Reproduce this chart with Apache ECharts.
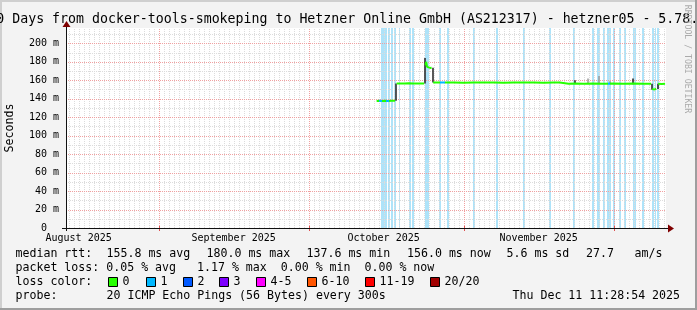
<!DOCTYPE html>
<html><head><meta charset="utf-8">
<script src="https://cdn.jsdelivr.net/npm/echarts@6/dist/echarts.min.js"></script>
<style>html,body{margin:0;padding:0;background:#f3f3f3;}#c{width:697px;height:310px;}</style>
</head><body><div id="c"></div>
<script>
// x values: days since 2025-08-01 00:00
const START = 12.478;            // Aug 13 2025 11:28:54
const END = 132.478;             // Dec 11 2025 11:28:54
const MONTH_STARTS = [31, 61, 92, 122];
const MONTH_LABELS = ['August 2025', 'September 2025', 'October 2025', 'November 2025'];
const MONTH_LABEL_DAYS = [15, 46, 76, 107];
const Y_MAX = 216.6;             // ms
const Y_MAJOR = [20, 40, 60, 80, 100, 120, 140, 160, 180, 200];
const Y_MINOR = [10, 30, 50, 70, 90, 110, 130, 150, 170, 190, 210];

// median rtt (ms); '-' = gap
const MEDIAN = [
  [74.6,137.6],[75.2,137.8],[75.8,137.6],[76.4,137.9],[77.0,137.6],[77.6,137.8],[78.3,137.7],
  [78.4,'-'],
  [78.6,156.4],[79.4,156.6],[80.2,156.4],[81.0,156.7],[81.8,156.5],[82.6,156.6],[83.4,156.4],[84.1,156.5],
  [84.2,'-'],
  [84.4,176],[84.5,180.0],[84.7,174.5],[85.0,173.8],[85.3,173.4],[85.6,173.6],
  [85.7,'-'],
  [85.9,157.6],[88,157.5],[90,157.7],[92,157.4],[94,157.6],[96,157.5],[98,157.7],[100,157.4],
  [102,157.6],[104,157.5],[106,157.6],[108,157.4],[110,157.6],[111.2,157.5],
  [111.3,156.3],[113,156.2],[114.3,156.6],[116,156.3],[118,156.4],[120,156.2],[122,156.4],
  [124,156.3],[126,156.5],[128,156.3],[129.5,156.3],
  [129.6,'-'],
  [129.7,150.4],[129.9,149.6],[130.2,150.0],[130.5,151.0],
  [130.7,'-'],
  [130.9,156.2],[131.6,156.0],[132.3,156.1]
];
// x ranges where median line is drawn in "1 lost" colour
const LOSS1_RANGES = [[75.0,75.7],[76.5,77.1],[87.3,88.3],[120.8,121.2]];
// background loss bars [from, to] (days)
const LOSS_BARS = [
  [75.5,76.7],[76.9,77.3],[77.5,77.9],[78.1,78.5],[79.1,79.3],[81.1,81.5],[81.7,82.1],
  [84.3,85.1],[87.1,87.5],[88.7,89.1],[93.9,94.3],[98.5,98.9],[103.9,104.3],[109.1,109.5],
  [113.9,114.3],[117.7,118.1],[118.7,119.3],[119.9,120.3],[120.7,121.5],[121.9,122.3],
  [123.1,123.5],[124.1,124.5],[125.9,126.5],[127.7,128.1],[129.7,130.1],[130.3,130.5],[130.7,131.1]
];
// smoke spread [day, low, high]
const SMOKE_DARK = [[78.5,137.7,156.4],[84.3,156.5,184],[85.8,157.6,173.6],[114.3,156.4,160],
  [125.9,155.8,162],[129.6,149.6,156.3],[130.8,150.5,156.2]];
const SMOKE_LIGHT = [[116.9,156.4,162],[119.1,156.3,164.5],[121.3,156.3,159]];

const TITLE = '120 Days from docker-tools-smokeping to Hetzner Online GmbH (AS212317) - hetzner05 - 5.78.';
const RTT_STATS = ['155.8 ms avg', '180.0 ms max', '137.6 ms min', '156.0 ms now', '5.6 ms sd', '27.7', 'am/s'];
const LOSS_LINE = 'packet loss: 0.05 % avg   1.17 % max  0.00 % min  0.00 % now';
const LOSS_NAMES = ['0', '1', '2', '3', '4-5', '6-10', '11-19', '20/20'];
const LOSS_COLORS = ['#26ff00', '#00b8ff', '#0059ff', '#7e00ff', '#ff00ff', '#ff5500', '#ff0000', '#a10000'];
const PROBE = '20 ICMP Echo Pings (56 Bytes) every 300s';
const DATE_TEXT = 'Thu Dec 11 11:28:54 2025';

const MONO = '"DejaVu Sans Mono", monospace';
const GRID_C = '#dcdcdc', MGRID_C = '#f0a0a0';

const dayLines = [];
for (let d = Math.ceil(START); d <= END; d++) if (!MONTH_STARTS.includes(d)) dayLines.push([d, 0]);

function vlines(color, tick) {
  return function (params, api) {
    const x = Math.round(api.coord([api.value(0), 0])[0]) + 0.5;
    const y0 = api.coord([START, 0])[1], y1 = api.coord([START, Y_MAX])[1];
    const kids = [{type: 'line', shape: {x1: x, y1: y0, x2: x, y2: y1},
      style: {stroke: color, lineWidth: 1, lineDash: [1, 1]}}];
    if (tick) kids.push({type: 'line', shape: {x1: x, y1: y0 - 2, x2: x, y2: y0 + 3},
      style: {stroke: '#e05050', lineWidth: 1}});
    return {type: 'group', children: kids};
  };
}
function hlines(color) {
  return function (params, api) {
    const y = Math.round(api.coord([START, api.value(1)])[1]) + 0.5;
    const x0 = api.coord([START, 0])[0], x1 = api.coord([END, 0])[0];
    return {type: 'line', shape: {x1: x0, y1: y, x2: x1, y2: y},
      style: {stroke: color, lineWidth: 1, lineDash: [1, 1]}};
  };
}
function smoke(color) {
  return function (params, api) {
    const p0 = api.coord([api.value(0), api.value(2)]);
    const p1 = api.coord([api.value(0), api.value(1)]);
    return {type: 'rect', shape: {x: Math.round(p0[0]) - 0.75, y: p0[1], width: 1.5, height: p1[1] - p0[1]},
      style: {fill: color}};
  };
}

const chart = echarts.init(document.getElementById('c'), null, {renderer: 'canvas'});

const graphic = [];
// frame
graphic.push({type: 'rect', shape: {x: 0, y: 0, width: 697, height: 2}, style: {fill: '#cfcfcf'}, z: 100});
graphic.push({type: 'rect', shape: {x: 0, y: 0, width: 2, height: 310}, style: {fill: '#cfcfcf'}, z: 100});
graphic.push({type: 'rect', shape: {x: 0, y: 308, width: 697, height: 2}, style: {fill: '#9e9e9e'}, z: 101});
graphic.push({type: 'rect', shape: {x: 695, y: 0, width: 2, height: 310}, style: {fill: '#9e9e9e'}, z: 101});
// axes
graphic.push({type: 'line', shape: {x1: 62, y1: 228.5, x2: 669, y2: 228.5}, style: {stroke: '#111', lineWidth: 1}, z: 100});
graphic.push({type: 'line', shape: {x1: 66.5, y1: 231, x2: 66.5, y2: 25}, style: {stroke: '#111', lineWidth: 1}, z: 100});
graphic.push({type: 'polygon', shape: {points: [[668, 224.5], [668, 232.5], [674, 228.5]]}, style: {fill: '#7f0000'}, z: 100});
graphic.push({type: 'polygon', shape: {points: [[62.5, 27], [70.5, 27], [66.5, 21]]}, style: {fill: '#7f0000'}, z: 100});
// title
graphic.push({type: 'text', x: -19.7, y: 20, style: {text: TITLE, font: '13.25px ' + MONO, fill: '#000', align: 'left', verticalAlign: 'middle'}, z: 100});
// watermark
graphic.push({type: 'text', x: 687, y: 59, rotation: -Math.PI / 2,
  style: {text: 'RRDTOOL / TOBI OETIKER', font: '8.2px ' + MONO, fill: '#aaaaaa', align: 'center', verticalAlign: 'middle'}, z: 100});
// y title
graphic.push({type: 'text', x: 10, y: 128, rotation: Math.PI / 2,
  style: {text: 'Seconds', font: '11.6px ' + MONO, fill: '#000', align: 'center', verticalAlign: 'middle'}, z: 100});
// legend
const LF = '11.6px ' + MONO;
function txt(t, x, y) { graphic.push({type: 'text', x: x, y: y, style: {text: t, font: LF, fill: '#000', align: 'left', verticalAlign: 'middle'}, z: 100}); }
txt('median rtt:', 15.5, 254);
const RTT_X = [106.5, 206.5, 306.5, 407, 506.5, 586, 634.5];
RTT_STATS.forEach((s, i) => txt(s, RTT_X[i], 254));
txt(LOSS_LINE, 15.5, 268);
txt('loss color:', 15.5, 282);
const BOX_X = [108, 146, 183, 219, 256, 307, 365, 430];
LOSS_NAMES.forEach((n, i) => {
  graphic.push({type: 'rect', shape: {x: BOX_X[i] + 0.5, y: 277.5, width: 9, height: 9},
    style: {fill: LOSS_COLORS[i], stroke: '#000', lineWidth: 1}, z: 100});
  txt(n, BOX_X[i] + 14.5, 282);
});
txt('probe:', 15.5, 296);
txt(PROBE, 106.5, 296);
txt(DATE_TEXT, 512.5, 296);

const option = {
  animation: false,
  backgroundColor: '#f3f3f3',
  grid: {left: 66, top: 28, width: 600, height: 200, show: true, backgroundColor: '#ffffff', borderWidth: 0},
  xAxis: {type: 'value', min: START, max: END, axisLine: {show: false}, axisTick: {show: false},
    axisLabel: {show: false}, splitLine: {show: false}},
  yAxis: {type: 'value', min: 0, max: Y_MAX, interval: 20, axisLine: {show: false}, axisTick: {show: false},
    splitLine: {show: false},
    axisLabel: {fontFamily: 'DejaVu Sans Mono', fontSize: 10, color: '#000', margin: 7, showMaxLabel: false,
      formatter: v => v === 0 ? '0  ' : (Math.abs(v % 20) < 1e-6 ? v + ' m' : '')}},
  visualMap: {show: false, type: 'piecewise', dimension: 0, seriesIndex: 6,
    pieces: LOSS1_RANGES.map(r => ({gte: r[0], lte: r[1], color: '#00b8ff'})),
    outOfRange: {color: '#26ff00'}},
  graphic: {elements: graphic},
  series: [
    {type: 'custom', z: 1, silent: true, data: LOSS_BARS,
      renderItem: (params, api) => {
        const p0 = api.coord([api.value(0), Y_MAX]);
        const p1 = api.coord([api.value(1), 0]);
        const x0 = Math.round(p0[0]), x1 = Math.round(p1[0]);
        return {type: 'rect', shape: {x: x0, y: p0[1], width: Math.max(1, x1 - x0), height: p1[1] - p0[1]},
          style: {fill: '#aee3f9'}};
      }},
    {type: 'custom', z: 2, silent: true, data: dayLines, renderItem: vlines(GRID_C, false)},
    {type: 'custom', z: 2, silent: true, data: Y_MINOR.map(v => [START, v]), renderItem: hlines(GRID_C)},
    {type: 'custom', z: 3, silent: true, data: MONTH_STARTS.map(d => [d, 0]), renderItem: vlines(MGRID_C, true)},
    {type: 'custom', z: 3, silent: true, data: Y_MAJOR.map(v => [START, v]), renderItem: hlines(MGRID_C)},
    {type: 'custom', z: 4, silent: true, data: SMOKE_DARK, renderItem: smoke('#222222')},
    {type: 'line', z: 5, silent: true, data: MEDIAN, showSymbol: false, connectNulls: false,
      lineStyle: {width: 2}},
    {type: 'custom', z: 4, silent: true, data: SMOKE_LIGHT, renderItem: smoke('#9a9a9a')},
    {type: 'custom', z: 6, silent: true, clip: false, data: MONTH_LABEL_DAYS.map(d => [d, 0]),
      renderItem: (params, api) => {
        const p = api.coord([api.value(0), 0]);
        return {type: 'text', x: p[0], y: p[1] + 10,
          style: {text: MONTH_LABELS[params.dataIndex], font: '10px ' + MONO, fill: '#000',
            align: 'center', verticalAlign: 'middle'}};
      }}
  ]
};
chart.setOption(option);
</script>
</body></html>
